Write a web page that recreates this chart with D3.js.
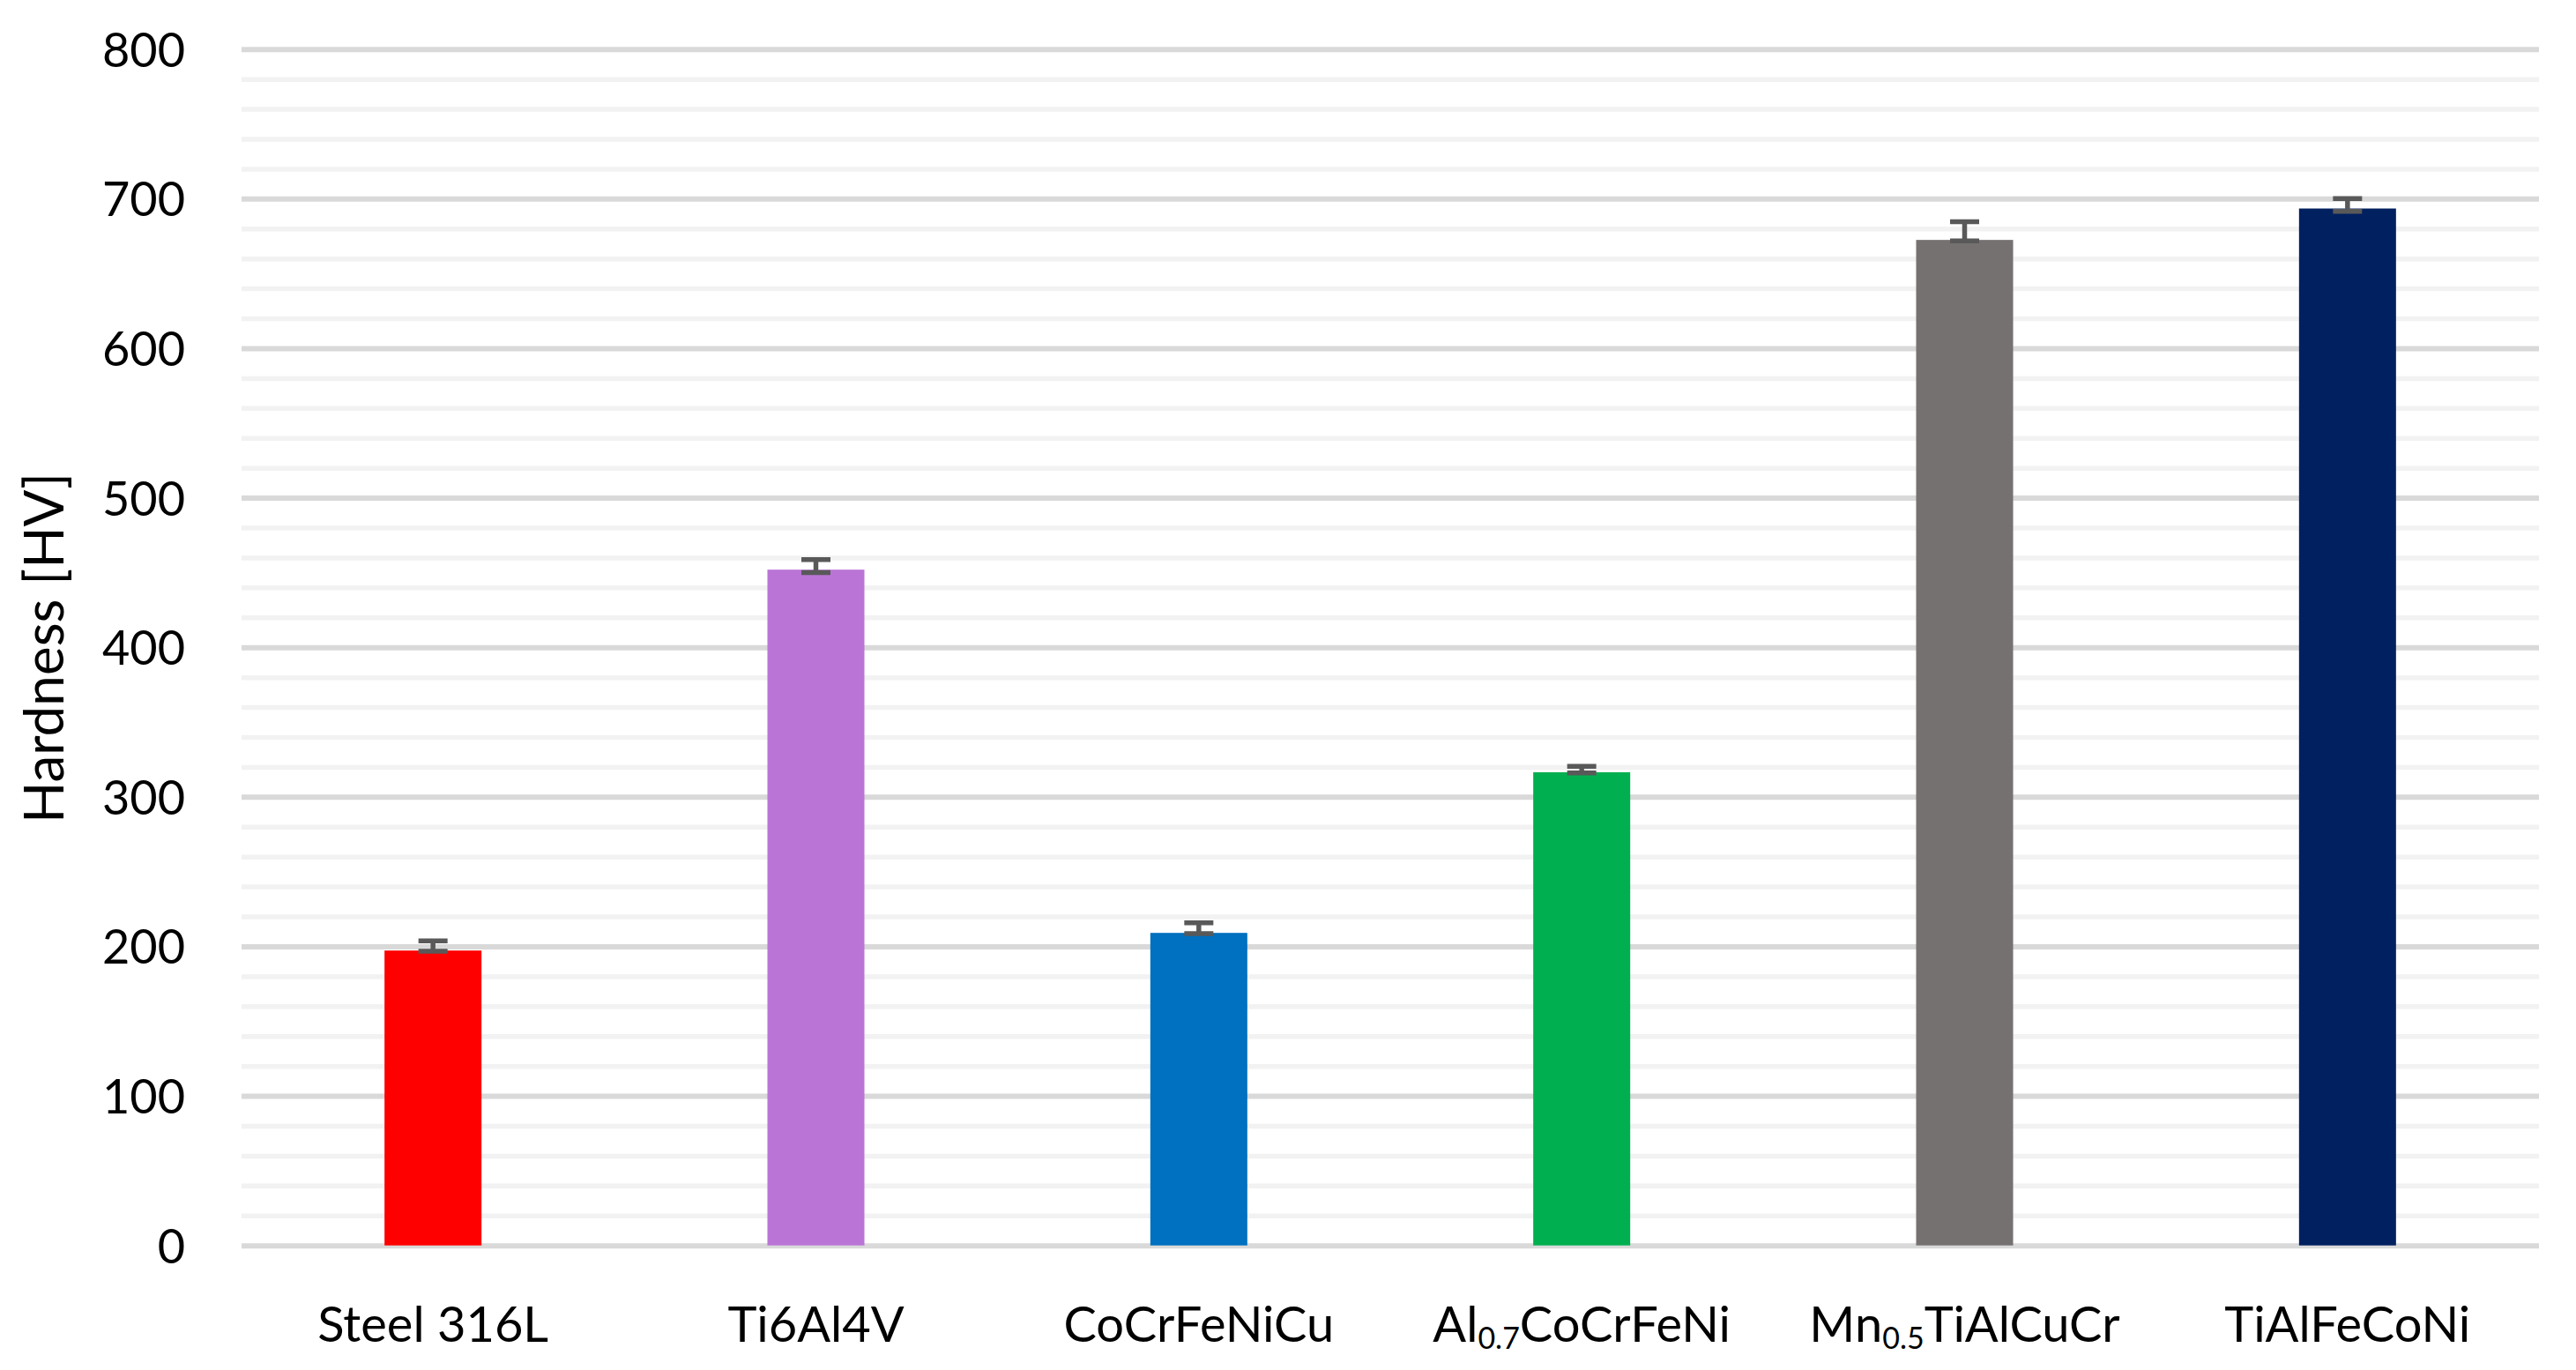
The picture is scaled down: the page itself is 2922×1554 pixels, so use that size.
<!DOCTYPE html>
<html lang="en">
<head>
    <meta charset="UTF-8">
    <title>Hardness [HV]</title>
    <script src="https://d3js.org/d3.v7.min.js"></script>
    <style>
        html, body { margin: 0; padding: 0; background: #ffffff; }
        svg { display: block; font-family: Lato, "Open Sans", sans-serif; }
    </style>
</head>
<body>
    <svg id="chart"></svg>
    <script>
        // Chart data
        const categories = ['Steel 316L', 'Ti6Al4V', 'CoCrFeNiCu', 'Al0.7CoCrFeNi', 'Mn0.5TiAlCuCr', 'TiAlFeCoNi'];
        const hardness = [197.2, 451.9, 209.0, 316.4, 672.4, 693.4];
        const errPlus = [6.5, 6.7, 6.8, 4.0, 12.1, 6.6];
        const errMinus = [0.5, 1.9, 0.5, 0.5, 0.6, 1.9];
        const barColors = ['#FF0000', '#BA74D6', '#0070C0', '#00B050', '#767171', '#002060'];
        const yTicks = [0, 100, 200, 300, 400, 500, 600, 700, 800];
        const yMinorTicks = d3.range(0, 801, 20);
        const yTitle = 'Hardness [HV]';

        const width = 2922, height = 1554;
        const margin = { top: 55.7, right: 42, bottom: 141.3, left: 274 };

        const svg = d3.select('#chart')
            .attr('width', width)
            .attr('height', height);

        svg.append('rect')
            .attr('width', width)
            .attr('height', height)
            .attr('fill', '#ffffff');

        const x = d3.scaleBand()
            .domain(categories)
            .range([margin.left, width - margin.right])
            .paddingInner(0.7467)
            .paddingOuter(0.7467 / 2);

        const y = d3.scaleLinear()
            .domain([0, 800])
            .range([height - margin.bottom, margin.top]);

        const plotW = width - margin.right - margin.left;

        // minor gridlines
        svg.append('g')
            .attr('transform', `translate(${margin.left},0)`)
            .call(d3.axisLeft(y).tickValues(yMinorTicks.filter(v => v % 100 !== 0)).tickSize(-plotW).tickFormat(''))
            .call(g => g.select('.domain').remove())
            .call(g => g.selectAll('.tick line').attr('stroke', '#f2f2f2').attr('stroke-width', 5.5));

        // major gridlines + labels
        svg.append('g')
            .attr('transform', `translate(${margin.left},0)`)
            .call(d3.axisLeft(y).tickValues(yTicks).tickSize(-plotW).tickPadding(64))
            .call(g => g.select('.domain').remove())
            .call(g => g.selectAll('.tick line').attr('stroke', '#d9d9d9').attr('stroke-width', 6))
            .call(g => g.selectAll('.tick text')
                .attr('fill', '#000000')
                .attr('font-size', 54)
                .attr('font-family', 'Lato, "Open Sans", sans-serif')
                .attr('dy', '0.36em'));

        // bars
        svg.append('g')
            .selectAll('rect')
            .data(categories)
            .join('rect')
            .attr('x', d => x(d))
            .attr('width', x.bandwidth())
            .attr('y', (d, i) => y(hardness[i]))
            .attr('height', (d, i) => y(0) - y(hardness[i]))
            .attr('fill', (d, i) => barColors[i]);

        // error bars
        const capW = 33;
        const err = svg.append('g')
            .attr('stroke', '#595959')
            .attr('stroke-width', 5.5)
            .selectAll('g')
            .data(categories)
            .join('g')
            .attr('transform', d => `translate(${x(d) + x.bandwidth() / 2},0)`);

        err.append('line')
            .attr('y1', (d, i) => y(hardness[i] - errMinus[i]))
            .attr('y2', (d, i) => y(hardness[i] + errPlus[i]));
        err.append('line')
            .attr('x1', -capW / 2).attr('x2', capW / 2)
            .attr('y1', (d, i) => y(hardness[i] + errPlus[i]))
            .attr('y2', (d, i) => y(hardness[i] + errPlus[i]));
        err.append('line')
            .attr('x1', -capW / 2).attr('x2', capW / 2)
            .attr('y1', (d, i) => y(hardness[i] - errMinus[i]))
            .attr('y2', (d, i) => y(hardness[i] - errMinus[i]));

        // category labels, decimal parts shown as subscripts
        const xLabels = svg.append('g')
            .selectAll('text')
            .data(categories)
            .join('text')
            .attr('x', d => x(d) + x.bandwidth() / 2)
            .attr('y', 1522)
            .attr('text-anchor', 'middle')
            .attr('font-size', 56)
            .attr('fill', '#000000');

        xLabels.each(function (d) {
            const t = d3.select(this);
            d.split(/(\d+\.\d+)/).forEach(part => {
                if (!part) return;
                if (/^\d+\.\d+$/.test(part)) {
                    t.append('tspan').attr('font-size', 34).attr('dy', 8).text(part);
                } else {
                    const s = t.append('tspan').text(part);
                    if (t.selectAll('tspan').size() > 1) s.attr('dy', -8);
                }
            });
        });

        // y axis title
        svg.append('text')
            .attr('transform', `translate(71.7,${735})rotate(-90)`)
            .attr('text-anchor', 'middle')
            .attr('font-size', 62)
            .attr('fill', '#000000')
            .text(yTitle);
    </script>
</body>
</html>
